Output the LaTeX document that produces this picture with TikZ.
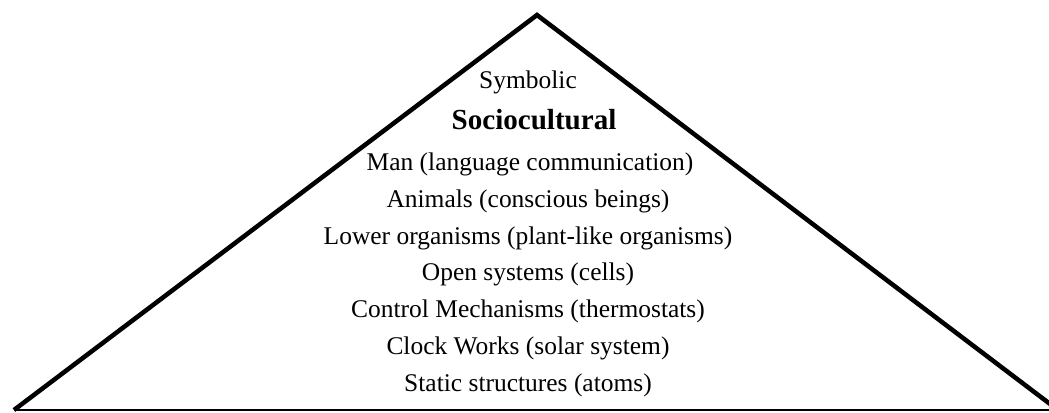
\documentclass[tikz,border=0pt]{standalone}
\usepackage{fontspec}
\setmainfont{Liberation Serif}
\begin{document}
\begin{tikzpicture}[x=0.75pt,y=-0.75pt,
  lvl/.style={anchor=base,inner sep=0pt,font=\fontsize{19.1}{22}\selectfont},
  lvlbold/.style={anchor=base,inner sep=0pt,font=\fontsize{21.8}{25}\selectfont\bfseries}]
\useasboundingbox (0,0) rectangle (1049,412);
\coordinate (bl) at (14,410);
\coordinate (apex) at (537,15);
\coordinate (br) at (1058,410);
\coordinate (be) at (1049,410);
\draw[line width=3.4pt,line join=miter] (bl) -- (apex) -- (br);
\draw[line width=0.9pt] (bl) -- (be);
\node[lvl] (symb) at (528,88) {Symbolic};
\node[lvlbold] (soc) at (534,129) {Sociocultural};
\node[lvl] (man) at (530,170) {Man (language communication)};
\node[lvl] (ani) at (528,207) {Animals (conscious beings)};
\node[lvl] (low) at (528,244) {Lower organisms (plant-like organisms)};
\node[lvl] (open) at (528,280.5) {Open systems (cells)};
\node[lvl] (ctrl) at (528,317) {Control Mechanisms (thermostats)};
\node[lvl] (clock) at (528,354) {Clock Works (solar system)};
\node[lvl] (stat) at (528,391) {Static structures (atoms)};
\end{tikzpicture}
\end{document}
